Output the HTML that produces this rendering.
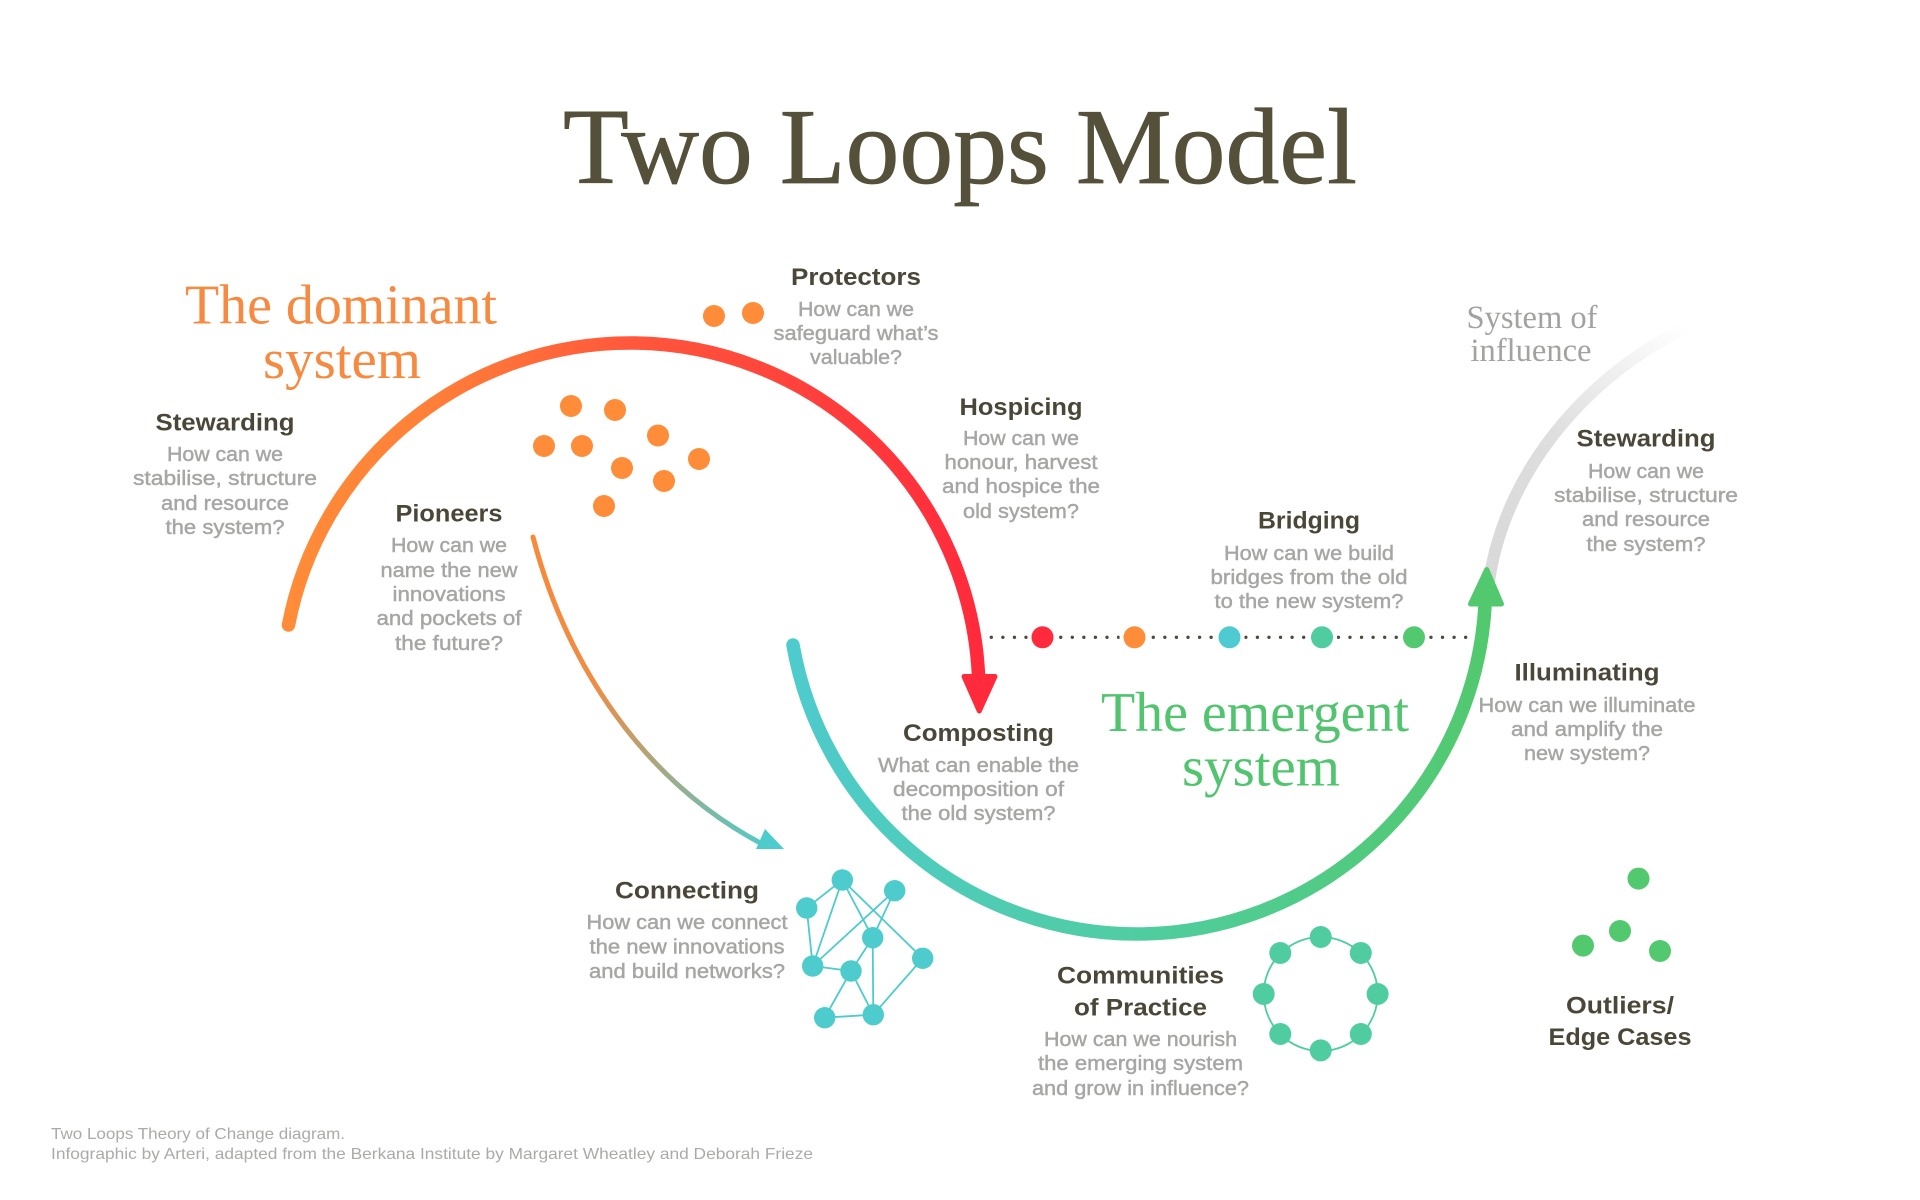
<!DOCTYPE html>
<html lang="en"><head><meta charset="utf-8"><title>Two Loops Model</title>
<style>
html,body{margin:0;padding:0;background:#fff;width:1920px;height:1200px;overflow:hidden}
svg{display:block}
text{text-anchor:middle}
.t{font-family:"Liberation Serif",serif}
.h{font-family:"Liberation Sans",sans-serif;font-size:24px;font-weight:bold;fill:#4a4738}
.b{font-family:"Liberation Sans",sans-serif;font-size:20px;fill:#a6a6a4;stroke:#a6a6a4;stroke-width:.45px}
.f{font-family:"Liberation Sans",sans-serif;font-size:16px;fill:#aaaaa8;text-anchor:start}
</style></head><body>
<svg width="1920" height="1200" viewBox="0 0 1920 1200" xmlns="http://www.w3.org/2000/svg">
<defs>
<linearGradient id="gD" gradientUnits="userSpaceOnUse" x1="288" y1="0" x2="980" y2="0"><stop offset="0" stop-color="#ff8c38"/><stop offset=".2" stop-color="#ff8038"/><stop offset=".5" stop-color="#ff573c"/><stop offset="1" stop-color="#ff2a3c"/></linearGradient>
<linearGradient id="gE" gradientUnits="userSpaceOnUse" x1="793" y1="0" x2="1486" y2="0"><stop offset="0" stop-color="#4ecbcc"/><stop offset=".5" stop-color="#50cda0"/><stop offset="1" stop-color="#52c96e"/></linearGradient>
<linearGradient id="gS" gradientUnits="userSpaceOnUse" x1="1488" y1="590" x2="1685" y2="328"><stop offset="0" stop-color="#d8d8d8"/><stop offset=".5" stop-color="#dedede"/><stop offset="1" stop-color="#ffffff"/></linearGradient>
<linearGradient id="gP" gradientUnits="userSpaceOnUse" x1="533" y1="537" x2="770" y2="848"><stop offset="0" stop-color="#f8893a"/><stop offset=".4" stop-color="#ee8d45"/><stop offset="1" stop-color="#4ecbcc"/></linearGradient>
</defs>

<!-- loops -->
<path d="M1488 590C1500 480 1580 380 1685 328" fill="none" stroke="url(#gS)" stroke-width="12"/>
<path d="M288.500 625A347.800 347.800 0 0 1 630 343A348.900 348.900 0 0 1 978.500 675" fill="none" stroke="url(#gD)" stroke-width="13.500" stroke-linecap="round"/>
<path d="M964 676.500L995 676.500L979.300 711Z" fill="#ff2a3c" stroke="#ff2a3c" stroke-width="5" stroke-linejoin="round"/>
<path d="M793 645A349.200 349.200 0 0 0 1137 934A348.600 348.600 0 0 0 1485 606" fill="none" stroke="url(#gE)" stroke-width="13.500" stroke-linecap="round"/>
<path d="M1470.500 604L1501.500 604L1486.700 569.500Z" fill="#52c96e" stroke="#52c96e" stroke-width="5" stroke-linejoin="round"/>
<path d="M533 537C565 660 640 780 764 845" fill="none" stroke="url(#gP)" stroke-width="5" stroke-linecap="round"/>
<path d="M765 829L784 849L756 849Z" fill="#4ecbcc"/>

<!-- bridge dots -->
<path d="M991.300 637.300H1468" fill="none" stroke="#4a4a40" stroke-width="3.400" stroke-linecap="round" stroke-dasharray="0 11.570"/>
<circle cx="1042.500" cy="637.300" r="15" fill="#fff"/><circle cx="1134.500" cy="637.300" r="15" fill="#fff"/><circle cx="1229.500" cy="637.300" r="15" fill="#fff"/><circle cx="1322" cy="637.300" r="15" fill="#fff"/><circle cx="1414" cy="637.300" r="15" fill="#fff"/>
<circle cx="1042.500" cy="637.300" r="11" fill="#ff2a3c"/><circle cx="1134.500" cy="637.300" r="11" fill="#ff8c38"/><circle cx="1229.500" cy="637.300" r="11" fill="#4ecbd0"/><circle cx="1322" cy="637.300" r="11" fill="#50cda0"/><circle cx="1414" cy="637.300" r="11" fill="#52c96e"/>

<!-- orange dots -->
<g fill="#ff8c38">
<circle cx="714" cy="316" r="11"/><circle cx="753" cy="313" r="11"/>
<circle cx="571" cy="406" r="11"/><circle cx="615" cy="410" r="11"/><circle cx="658" cy="435.500" r="11"/><circle cx="544" cy="446" r="11"/><circle cx="582" cy="446" r="11"/><circle cx="699" cy="459" r="11"/><circle cx="622" cy="468" r="11"/><circle cx="664" cy="481" r="11"/><circle cx="604" cy="506" r="11"/>
</g>

<!-- network -->
<g stroke="#4ecbcc" stroke-width="1.800" fill="none">
<path d="M842.300 880L806.700 908M842.300 880L812.700 966M842.300 880L872.700 937.700M842.300 880L922.700 958.300M894.700 890.700L812.700 966M894.700 890.700L872.700 937.700M806.700 908L812.700 966M812.700 966L851 971M851 971L872.700 937.700M872.700 937.700L873.300 1014.700M851 971L824.700 1017.700M851 971L873.300 1014.700M824.700 1017.700L873.300 1014.700M873.300 1014.700L922.700 958.300"/>
</g>
<g fill="#4ecbcc">
<circle cx="842.300" cy="880" r="10.700"/><circle cx="894.700" cy="890.700" r="10.700"/><circle cx="806.700" cy="908" r="10.700"/><circle cx="872.700" cy="937.700" r="10.700"/><circle cx="922.700" cy="958.300" r="10.700"/><circle cx="812.700" cy="966" r="10.700"/><circle cx="851" cy="971" r="10.700"/><circle cx="824.700" cy="1017.700" r="10.700"/><circle cx="873.300" cy="1014.700" r="10.700"/>
</g>

<!-- ring -->
<circle cx="1320.700" cy="994" r="57" fill="none" stroke="#50cda0" stroke-width="1.800"/>
<g fill="#50cda0">
<circle cx="1320.700" cy="937" r="11"/><circle cx="1360.800" cy="953" r="11"/><circle cx="1377.600" cy="994" r="11"/><circle cx="1360.800" cy="1034" r="11"/><circle cx="1320.700" cy="1050.400" r="11"/><circle cx="1280.300" cy="1034" r="11"/><circle cx="1263.700" cy="994" r="11"/><circle cx="1280.300" cy="953" r="11"/>
</g>

<!-- outliers -->
<g fill="#52c96e"><circle cx="1638.500" cy="878.600" r="11"/><circle cx="1620" cy="931" r="11"/><circle cx="1583" cy="945.600" r="11"/><circle cx="1660" cy="951" r="11"/></g>

<!-- titles -->
<text class="t" x="960" y="183" font-size="108" fill="#55503a" stroke="#55503a" stroke-width=".8" textLength="794" lengthAdjust="spacingAndGlyphs">Two Loops Model</text>
<text class="t" x="341" y="323.500" font-size="56" fill="#f58a40" textLength="312" lengthAdjust="spacingAndGlyphs">The dominant</text>
<text class="t" x="342" y="378" font-size="56" fill="#f58a40" textLength="158" lengthAdjust="spacingAndGlyphs">system</text>
<text class="t" x="1255" y="731" font-size="56" fill="#52c46f" textLength="308" lengthAdjust="spacingAndGlyphs">The emergent</text>
<text class="t" x="1261" y="785.500" font-size="56" fill="#52c46f" textLength="158" lengthAdjust="spacingAndGlyphs">system</text>
<text class="t" x="1532" y="328" font-size="33" fill="#a2a2a0" textLength="131" lengthAdjust="spacingAndGlyphs">System of</text>
<text class="t" x="1531" y="361" font-size="33" fill="#a2a2a0" textLength="121" lengthAdjust="spacingAndGlyphs">influence</text>

<!-- Stewarding L -->
<text class="h" x="225" y="430.500" textLength="139" lengthAdjust="spacingAndGlyphs">Stewarding</text>
<text class="b" x="225" y="461" textLength="116" lengthAdjust="spacingAndGlyphs">How can we</text>
<text class="b" x="225" y="485" textLength="184" lengthAdjust="spacingAndGlyphs">stabilise, structure</text>
<text class="b" x="225" y="510" textLength="128" lengthAdjust="spacingAndGlyphs">and resource</text>
<text class="b" x="225" y="534" textLength="119" lengthAdjust="spacingAndGlyphs">the system?</text>

<!-- Protectors -->
<text class="h" x="856" y="285" textLength="130" lengthAdjust="spacingAndGlyphs">Protectors</text>
<text class="b" x="856" y="316" textLength="116" lengthAdjust="spacingAndGlyphs">How can we</text>
<text class="b" x="856" y="340" textLength="165" lengthAdjust="spacingAndGlyphs">safeguard what’s</text>
<text class="b" x="856" y="364" textLength="92" lengthAdjust="spacingAndGlyphs">valuable?</text>

<!-- Pioneers -->
<text class="h" x="449" y="521.500" textLength="107" lengthAdjust="spacingAndGlyphs">Pioneers</text>
<text class="b" x="449" y="552" textLength="116" lengthAdjust="spacingAndGlyphs">How can we</text>
<text class="b" x="449" y="577" textLength="137" lengthAdjust="spacingAndGlyphs">name the new</text>
<text class="b" x="449" y="601" textLength="113" lengthAdjust="spacingAndGlyphs">innovations</text>
<text class="b" x="449" y="625" textLength="145" lengthAdjust="spacingAndGlyphs">and pockets of</text>
<text class="b" x="449" y="650" textLength="108" lengthAdjust="spacingAndGlyphs">the future?</text>

<!-- Hospicing -->
<text class="h" x="1021" y="415" textLength="123" lengthAdjust="spacingAndGlyphs">Hospicing</text>
<text class="b" x="1021" y="445" textLength="116" lengthAdjust="spacingAndGlyphs">How can we</text>
<text class="b" x="1021" y="469" textLength="153" lengthAdjust="spacingAndGlyphs">honour, harvest</text>
<text class="b" x="1021" y="493" textLength="158" lengthAdjust="spacingAndGlyphs">and hospice the</text>
<text class="b" x="1021" y="518" textLength="116" lengthAdjust="spacingAndGlyphs">old system?</text>

<!-- Bridging -->
<text class="h" x="1309" y="528.500" textLength="102" lengthAdjust="spacingAndGlyphs">Bridging</text>
<text class="b" x="1309" y="560" textLength="170" lengthAdjust="spacingAndGlyphs">How can we build</text>
<text class="b" x="1309" y="584" textLength="197" lengthAdjust="spacingAndGlyphs">bridges from the old</text>
<text class="b" x="1309" y="608" textLength="189" lengthAdjust="spacingAndGlyphs">to the new system?</text>

<!-- Stewarding R -->
<text class="h" x="1646" y="446.500" textLength="139" lengthAdjust="spacingAndGlyphs">Stewarding</text>
<text class="b" x="1646" y="478" textLength="116" lengthAdjust="spacingAndGlyphs">How can we</text>
<text class="b" x="1646" y="502" textLength="184" lengthAdjust="spacingAndGlyphs">stabilise, structure</text>
<text class="b" x="1646" y="526" textLength="128" lengthAdjust="spacingAndGlyphs">and resource</text>
<text class="b" x="1646" y="551" textLength="119" lengthAdjust="spacingAndGlyphs">the system?</text>

<!-- Illuminating -->
<text class="h" x="1587" y="680.500" textLength="145" lengthAdjust="spacingAndGlyphs">Illuminating</text>
<text class="b" x="1587" y="712" textLength="217" lengthAdjust="spacingAndGlyphs">How can we illuminate</text>
<text class="b" x="1587" y="736" textLength="152" lengthAdjust="spacingAndGlyphs">and amplify the</text>
<text class="b" x="1587" y="760" textLength="126" lengthAdjust="spacingAndGlyphs">new system?</text>

<!-- Composting -->
<text class="h" x="978.500" y="741" textLength="151" lengthAdjust="spacingAndGlyphs">Composting</text>
<text class="b" x="978.500" y="772" textLength="201" lengthAdjust="spacingAndGlyphs">What can enable the</text>
<text class="b" x="978.500" y="796" textLength="171" lengthAdjust="spacingAndGlyphs">decomposition of</text>
<text class="b" x="978.500" y="820" textLength="154" lengthAdjust="spacingAndGlyphs">the old system?</text>

<!-- Connecting -->
<text class="h" x="687" y="898.500" textLength="144" lengthAdjust="spacingAndGlyphs">Connecting</text>
<text class="b" x="687" y="929" textLength="201" lengthAdjust="spacingAndGlyphs">How can we connect</text>
<text class="b" x="687" y="953.500" textLength="195" lengthAdjust="spacingAndGlyphs">the new innovations</text>
<text class="b" x="687" y="978" textLength="196" lengthAdjust="spacingAndGlyphs">and build networks?</text>

<!-- Communities -->
<text class="h" x="1140.500" y="983.500" textLength="167" lengthAdjust="spacingAndGlyphs">Communities</text>
<text class="h" x="1140.500" y="1015.500" textLength="133" lengthAdjust="spacingAndGlyphs">of Practice</text>
<text class="b" x="1140.500" y="1046" textLength="193" lengthAdjust="spacingAndGlyphs">How can we nourish</text>
<text class="b" x="1140.500" y="1070" textLength="205" lengthAdjust="spacingAndGlyphs">the emerging system</text>
<text class="b" x="1140.500" y="1095" textLength="217" lengthAdjust="spacingAndGlyphs">and grow in influence?</text>

<!-- Outliers -->
<text class="h" x="1620" y="1013.500" textLength="108" lengthAdjust="spacingAndGlyphs">Outliers/</text>
<text class="h" x="1620" y="1045" textLength="143" lengthAdjust="spacingAndGlyphs">Edge Cases</text>

<!-- footer -->
<text class="f" x="51" y="1139" textLength="294" lengthAdjust="spacingAndGlyphs">Two Loops Theory of Change diagram.</text>
<text class="f" x="51" y="1159" textLength="762" lengthAdjust="spacingAndGlyphs">Infographic by Arteri, adapted from the Berkana Institute by Margaret Wheatley and Deborah Frieze</text>
</svg>
</body></html>
